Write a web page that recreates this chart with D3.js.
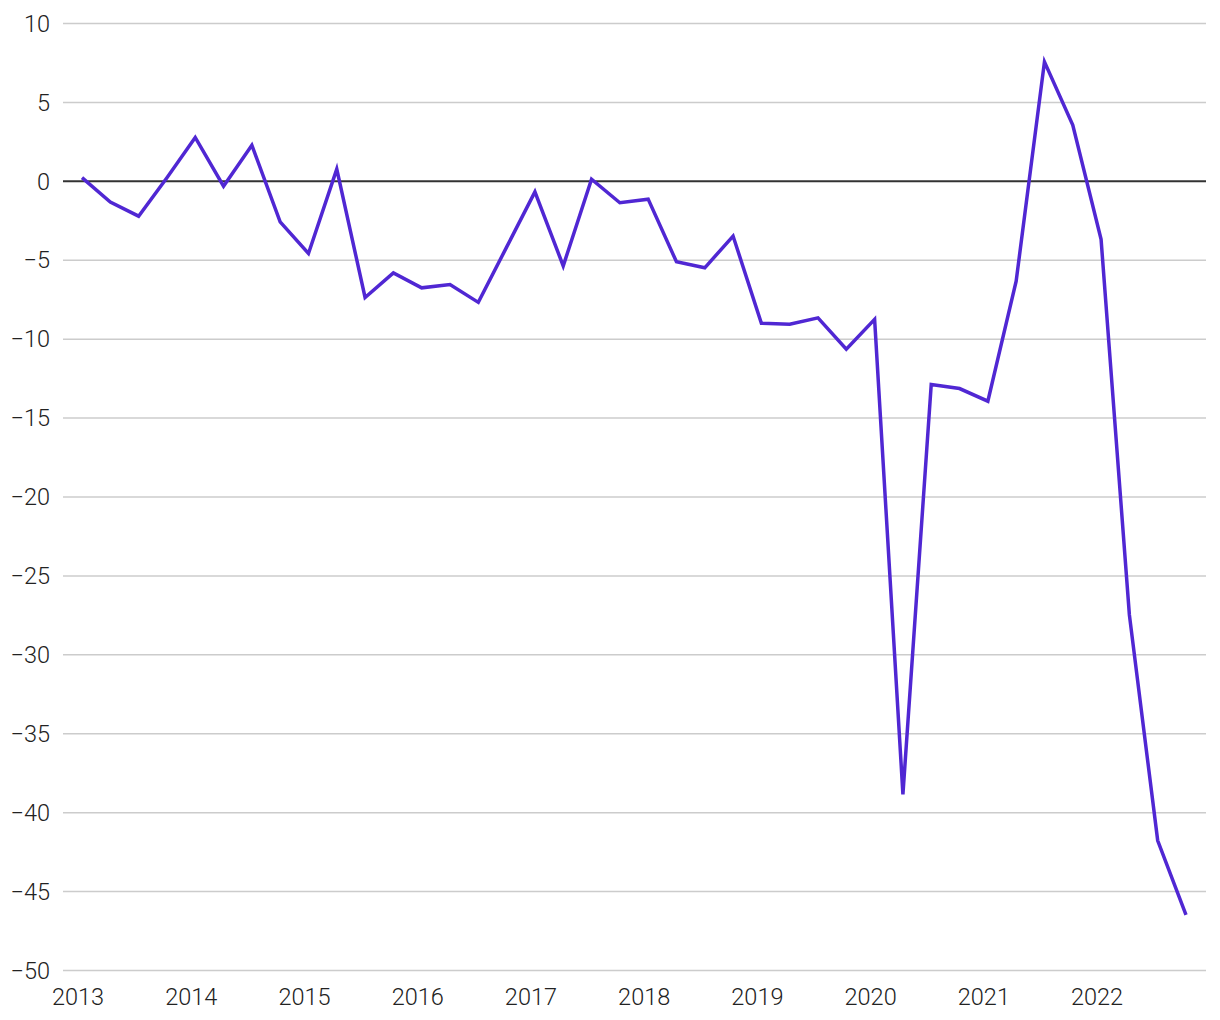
<!DOCTYPE html>
<html><head><meta charset="utf-8">
<script src="https://cdn.jsdelivr.net/npm/d3@7"></script>
<style>body{margin:0;background:#fff}svg{display:block}text{font-family:Roboto,sans-serif;font-weight:300;fill:#222}</style>
</head><body><svg id="c" width="1220" height="1020"></svg>
<script>
const years = ["2013","2014","2015","2016","2017","2018","2019","2020","2021","2022"];
const quarters = ["Q1","Q2","Q3","Q4"];
const values = [0.2,-1.35,-2.24,0.2, 2.75,-0.34,2.26,-2.6, -4.6,0.74,-7.39,-5.83,
  -6.78,-6.57,-7.7,-4.2, -0.7,-5.39,0.1,-1.39, -1.16,-5.13,-5.51,-3.5,
  -9.02,-9.08,-8.68,-10.67, -8.78,-38.87,-12.9,-13.16, -13.96,-6.36,7.54,3.53,
  -3.71,-27.5,-41.8,-46.5];
const yTicks = [10,5,0,-5,-10,-15,-20,-25,-30,-35,-40,-45,-50];

const periods = [];
years.forEach(y => quarters.forEach(q => periods.push(y + " " + q)));
const data = periods.map((p, i) => ({p, i, v: values[i]}));

const svg = d3.select("#c");
const x = d3.scaleLinear().domain([0, periods.length - 1]).range([82, 1186]);
const y = d3.scaleLinear().domain([-50, 10]).range([970, 23]);

// gridlines
const yAxis = d3.axisLeft(y).tickValues(yTicks).tickSize(-(1206 - 63))
  .tickFormat(d => d < 0 ? "\u2212" + Math.abs(d) : d);
const gy = svg.append("g").attr("transform", "translate(63,0)").call(yAxis);
gy.select(".domain").remove();
gy.selectAll(".tick line").attr("stroke", "#cccccc").attr("stroke-width", 1.5)
  .filter(d => d === 0).attr("stroke", "#333").attr("stroke-width", 2);
gy.selectAll(".tick text").attr("x", -13).attr("dy", "0.35em")
  .style("font-size", "23.5px").attr("fill", "#222");

// x axis labels
const xAxis = d3.axisBottom(x).tickValues(years.map((_, k) => k * 4)).tickSize(0)
  .tickFormat(d => years[d / 4]);
const gx = svg.append("g").attr("transform", "translate(0,978)").call(xAxis);
gx.select(".domain").remove();
gx.selectAll(".tick text").attr("x", -4.5).attr("dy", null).attr("y", 27)
  .style("font-size", "23.5px").attr("fill", "#222");

// line
const line = d3.line().x(d => x(d.i)).y(d => y(d.v));
svg.append("path").datum(data).attr("d", line)
  .attr("fill", "none").attr("stroke", "#5027d3").attr("stroke-width", 3.5)
  .attr("stroke-linejoin", "miter");
</script></body></html>
